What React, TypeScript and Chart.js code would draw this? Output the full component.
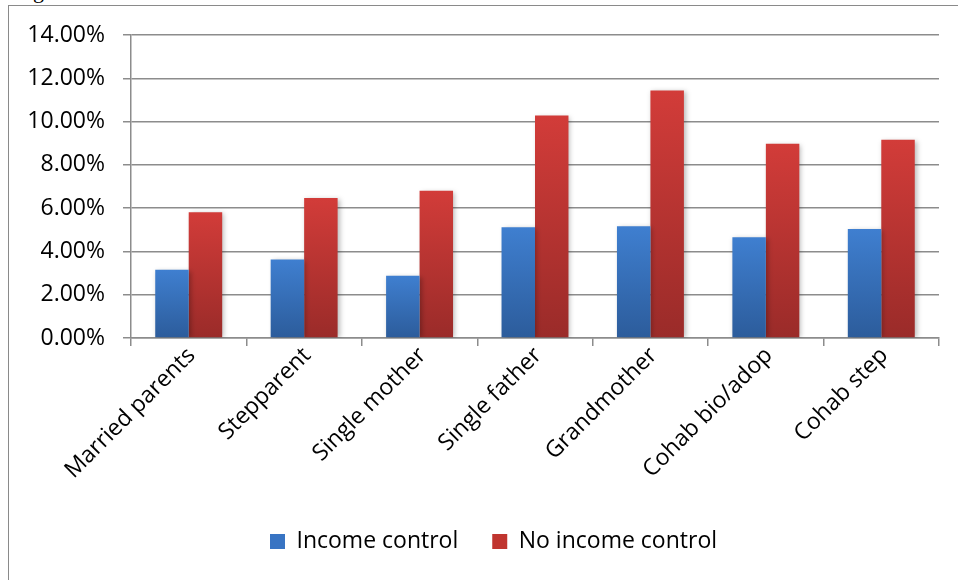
import React, { useEffect, useRef } from "react";
import { Chart, registerables } from "chart.js";

Chart.register(...registerables);

// Family structure categories
const categories = [
  "Married parents",
  "Stepparent",
  "Single mother",
  "Single father",
  "Grandmother",
  "Cohab bio/adop",
  "Cohab step",
];

// Percentages per family structure
const incomeControl = [3.15, 3.63, 2.88, 5.12, 5.16, 4.65, 5.04];
const noIncomeControl = [5.81, 6.47, 6.8, 10.28, 11.44, 8.98, 9.16];

const seriesNames = ["Income control", "No income control"];

const yMin = 0;
const yMax = 14;
const yStep = 2;

const FONT = "'Open Sans'";
const GRID = "#8c8c8c";

// Vertical gradient for each bar, light at the top, dark at the base
function barGradient(top: string, bottom: string) {
  return (ctx: any) => {
    const chart = ctx.chart;
    const area = chart.chartArea;
    const yScale = chart.scales?.y;
    if (!area || !yScale || ctx.raw == null) return top;
    const yTop = yScale.getPixelForValue(ctx.raw);
    const yBase = yScale.getPixelForValue(0);
    if (!isFinite(yTop) || !isFinite(yBase) || yBase - yTop < 1) return top;
    const g = chart.ctx.createLinearGradient(0, yTop, 0, yBase);
    g.addColorStop(0, top);
    g.addColorStop(1, bottom);
    return g;
  };
}

// Soft shadow behind the bars
const barShadow = {
  id: "barShadow",
  beforeDatasetsDraw(chart: any) {
    const c = chart.ctx;
    c.save();
    c.shadowColor = "rgba(0,0,0,0.28)";
    c.shadowBlur = 5;
    c.shadowOffsetX = 2;
    c.shadowOffsetY = 1;
  },
  afterDatasetsDraw(chart: any) {
    chart.ctx.restore();
  },
};

// Nudge the legend so it sits centred under the framed area
const legendShift = {
  id: "legendShift",
  afterLayout(chart: any) {
    const lg = chart.legend;
    if (lg) {
      lg.left += 24;
      lg.right += 24;
      lg.top += 2;
      lg.bottom += 2;
    }
  },
};

export default function App() {
  const canvasRef = useRef<HTMLCanvasElement | null>(null);

  useEffect(() => {
    if (!canvasRef.current) return;
    const chart = new Chart(canvasRef.current, {
      type: "bar",
      data: {
        labels: categories,
        datasets: [
          {
            label: seriesNames[0],
            data: incomeControl,
            backgroundColor: barGradient("#3f7fd0", "#2c5c9b"),
            borderWidth: 0,
          },
          {
            label: seriesNames[1],
            data: noIncomeControl,
            backgroundColor: barGradient("#d23c39", "#9a2b29"),
            borderWidth: 0,
          },
        ],
      },
      options: {
        animation: false,
        responsive: false,
        maintainAspectRatio: false,
        layout: { padding: { top: 35, right: 19, bottom: 19, left: 0 } },
        datasets: {
          bar: { categoryPercentage: 0.58, barPercentage: 1 },
        },
        plugins: {
          tooltip: { enabled: false },
          title: { display: false },
          legend: {
            display: true,
            position: "bottom",
            labels: {
              color: "#000",
              font: { family: FONT, size: 23 },
              boxWidth: 15,
              boxHeight: 15,
              padding: 34,
              generateLabels: () => [
                { text: seriesNames[0], fillStyle: "#3874c3", strokeStyle: "#3874c3", lineWidth: 0, datasetIndex: 0 },
                { text: seriesNames[1], fillStyle: "#c0352f", strokeStyle: "#c0352f", lineWidth: 0, datasetIndex: 1 },
              ],
            },
          },
        },
        scales: {
          x: {
            offset: true,
            grid: {
              offset: true,
              drawOnChartArea: false,
              drawTicks: true,
              tickLength: 8,
              color: GRID,
              lineWidth: 1.5,
            },
            border: { display: true, color: GRID, width: 1.5 },
            ticks: {
              color: "#000",
              font: { family: FONT, size: 23 },
              minRotation: 45,
              maxRotation: 45,
              autoSkip: false,
              padding: -4,
              labelOffset: 3,
            },
            afterFit(scale: any) {
              scale.height = 156;
            },
          },
          y: {
            min: yMin,
            max: yMax,
            grid: {
              color: GRID,
              lineWidth: 1.5,
              drawTicks: true,
              tickLength: 8,
            },
            border: { display: true, color: GRID, width: 1.5 },
            ticks: {
              stepSize: yStep,
              color: "#000",
              font: { family: FONT, size: 23 },
              padding: 18,
              callback: (v: any) => Number(v).toFixed(2) + "%",
            },
            afterFit(scale: any) {
              scale.width = 131;
            },
          },
        },
      },
      plugins: [barShadow, legendShift],
    });
    return () => chart.destroy();
  }, []);

  return (
    <div
      style={{
        position: "fixed",
        left: 0,
        top: 0,
        width: 958,
        height: 580,
        overflow: "hidden",
        background: "#fff",
      }}
    >
      <span
        style={{
          position: "absolute",
          left: 33,
          top: -20,
          fontFamily: "'Liberation Serif', serif",
          fontSize: 22,
          lineHeight: "22px",
          color: "#000",
        }}
      >
        g
      </span>
      <div
        style={{
          position: "absolute",
          left: 8,
          top: 5,
          width: 1000,
          height: 600,
          border: "1.5px solid #8a8a8a",
          boxSizing: "border-box",
        }}
      />
      <canvas
        ref={canvasRef}
        width={958}
        height={580}
        style={{ position: "absolute", left: 0, top: 0, width: 958, height: 580 }}
      />
    </div>
  );
}
